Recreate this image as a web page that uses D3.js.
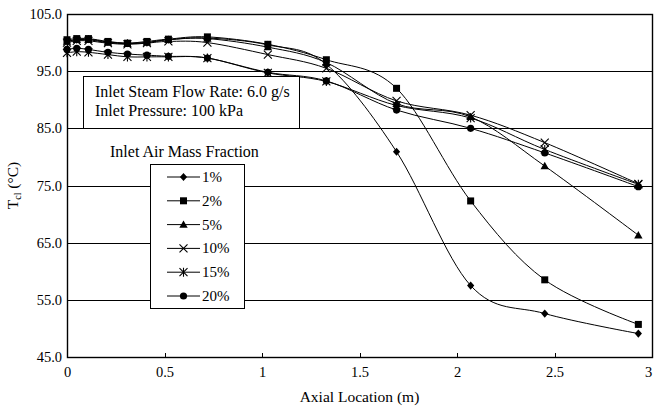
<!DOCTYPE html>
<html>
<head>
<meta charset="utf-8">
<script src="https://cdn.jsdelivr.net/npm/d3@7"></script>
<style>
body { margin: 0; background: #fff; overflow: hidden; }
text { font-family: "Liberation Serif", "Times New Roman", serif; fill: #000; }
</style>
</head>
<body>
<svg id="chart" width="654" height="406"></svg>
<script>
// axial positions (m)
var xs = [0, 0.05, 0.11, 0.21, 0.31, 0.41, 0.52, 0.72, 1.03, 1.33, 1.69, 2.07, 2.45, 2.93];

// centre-line temperature (C) per inlet air mass fraction
var t1  = [100.3, 100.5, 100.6, 100.1, 99.9, 100.0, 100.5, 100.8, 99.6, 96.2, 80.9, 57.5, 52.6, 49.1];
var t2  = [100.5, 100.7, 100.7, 100.2, 99.9, 100.2, 100.6, 101.0, 99.7, 97.0, 92.0, 72.3, 58.5, 50.7];
var t5  = [100.2, 100.5, 100.5, 100.0, 99.8, 100.0, 100.5, 100.7, 99.2, 96.5, 89.3, 87.0, 78.4, 66.3];
var t10 = [100.0, 100.3, 100.3, 99.9, 99.7, 99.9, 100.2, 100.0, 97.9, 95.5, 89.8, 87.3, 82.5, 75.3];
var t15 = [98.2, 98.4, 98.3, 97.9, 97.5, 97.5, 97.5, 97.3, 94.7, 93.2, 89.0, 86.8, 81.3, 75.2];
var t20 = [98.8, 99.0, 98.8, 98.3, 98.0, 97.8, 97.6, 97.3, 94.8, 93.3, 88.2, 85.0, 80.7, 74.8];

var seriesNames = ["1%", "2%", "5%", "10%", "15%", "20%"];
var seriesVals = [t1, t2, t5, t10, t15, t20];
var markerTypes = ["diamond", "square", "triangle", "x", "asterisk", "circle"];

var yTicks = [45, 55, 65, 75, 85, 95, 105];
var xTicks = [0, 0.5, 1, 1.5, 2, 2.5, 3];

var svg = d3.select("#chart");
var pLeft = 67, pRight = 652, pTop = 14, pBottom = 357;

var x = d3.scaleLinear().domain([0, 3]).range([pLeft, pRight]);
var y = d3.scaleLinear().domain([45, 105]).range([pBottom, pTop]);

// grid lines
svg.append("g").selectAll("line")
	.data(yTicks)
	.enter().append("line")
	.attr("x1", pLeft).attr("x2", pRight)
	.attr("y1", function(d) { return Math.round(y(d)) + 0.5; })
	.attr("y2", function(d) { return Math.round(y(d)) + 0.5; })
	.attr("stroke", "#000").attr("stroke-width", 1);

// frame
svg.append("rect")
	.attr("x", pLeft + 0.5).attr("y", pTop + 0.5)
	.attr("width", pRight - pLeft).attr("height", pBottom - pTop)
	.attr("fill", "none").attr("stroke", "#000").attr("stroke-width", 1.4);

// x axis
var xAxis = d3.axisBottom(x).tickValues(xTicks).tickSize(0).tickPadding(10)
	.tickFormat(function(d) { return d; });
var gx = svg.append("g").attr("transform", "translate(0," + pBottom + ")").call(xAxis);
gx.select(".domain").remove();
gx.selectAll("text").style("font-size", "14.5px").style("font-family", "Liberation Serif")
	.attr("dx", function(d) { return d == 3 ? -4 : 0; });
svg.append("g").selectAll("line")
	.data(xTicks.slice(1, -1))
	.enter().append("line")
	.attr("x1", function(d) { return Math.round(x(d)) + 0.5; })
	.attr("x2", function(d) { return Math.round(x(d)) + 0.5; })
	.attr("y1", pBottom).attr("y2", pBottom - 4)
	.attr("stroke", "#000");

// y axis
var yAxis = d3.axisLeft(y).tickValues(yTicks).tickSize(0).tickPadding(5)
	.tickFormat(d3.format(".1f"));
var gy = svg.append("g").attr("transform", "translate(" + pLeft + ",0)").call(yAxis);
gy.select(".domain").remove();
gy.selectAll("text").style("font-size", "14.5px").style("font-family", "Liberation Serif");

// axis titles
svg.append("text")
	.attr("x", (pLeft + pRight) / 2).attr("y", 402)
	.attr("text-anchor", "middle").style("font-size", "15.5px")
	.text("Axial Location (m)");

var ytitle = svg.append("text")
	.attr("transform", "translate(18," + ((pTop + pBottom) / 2) + ") rotate(-90)")
	.attr("text-anchor", "middle").style("font-size", "15.5px");
ytitle.append("tspan").text("T");
ytitle.append("tspan").attr("dy", 3).style("font-size", "10px").text("cl");
ytitle.append("tspan").attr("dy", -3).text(" (°C)");

// marker drawing
function drawMarker(g, type, cx, cy) {
	var s = 3.6;
	if (type == "diamond") {
		g.append("path").attr("d", "M" + cx + "," + (cy - s - 0.5) + "L" + (cx + s) + "," + cy + "L" + cx + "," + (cy + s + 0.5) + "L" + (cx - s) + "," + cy + "Z")
			.attr("fill", "#000");
	} else if (type == "square") {
		g.append("rect").attr("x", cx - 3.5).attr("y", cy - 3.5).attr("width", 7).attr("height", 7).attr("fill", "#000");
	} else if (type == "triangle") {
		g.append("path").attr("d", "M" + cx + "," + (cy - 4.2) + "L" + (cx + 4.2) + "," + (cy + 3.2) + "L" + (cx - 4.2) + "," + (cy + 3.2) + "Z")
			.attr("fill", "#000");
	} else if (type == "x") {
		g.append("path").attr("d", "M" + (cx - 4) + "," + (cy - 4) + "L" + (cx + 4) + "," + (cy + 4) + "M" + (cx + 4) + "," + (cy - 4) + "L" + (cx - 4) + "," + (cy + 4))
			.attr("stroke", "#000").attr("stroke-width", 1.1).attr("fill", "none");
	} else if (type == "asterisk") {
		g.append("path").attr("d", "M" + (cx - 4) + "," + (cy - 4) + "L" + (cx + 4) + "," + (cy + 4) + "M" + (cx + 4) + "," + (cy - 4) + "L" + (cx - 4) + "," + (cy + 4) + "M" + cx + "," + (cy - 4.5) + "L" + cx + "," + (cy + 4.5))
			.attr("stroke", "#000").attr("stroke-width", 1.1).attr("fill", "none");
	} else if (type == "circle") {
		g.append("circle").attr("cx", cx).attr("cy", cy).attr("r", 3.6).attr("fill", "#000");
	}
}

var line = d3.line()
	.x(function(d) { return x(d[0]); })
	.y(function(d) { return y(d[1]); })
	.curve(d3.curveCardinal.tension(0));

var plot = svg.append("g");
for (var i = 0; i < seriesVals.length; i++) {
	var pts = xs.map(function(xv, j) { return [xv, seriesVals[i][j]]; });
	plot.append("path").datum(pts)
		.attr("d", line)
		.attr("fill", "none").attr("stroke", "#000").attr("stroke-width", 1);
	var mg = plot.append("g");
	for (var j = 0; j < pts.length; j++) {
		drawMarker(mg, markerTypes[i], x(pts[j][0]), y(pts[j][1]));
	}
}

// info box
var info = svg.append("g");
info.append("rect").attr("x", 83.5).attr("y", 76.5).attr("width", 216).attr("height", 52)
	.attr("fill", "#fff").attr("stroke", "#000").attr("stroke-width", 1);
info.append("text").attr("x", 95).attr("y", 97).style("font-size", "16px").text("Inlet Steam Flow Rate: 6.0 g/s");
info.append("text").attr("x", 95).attr("y", 116).style("font-size", "16px").text("Inlet Pressure: 100 kPa");

// legend
svg.append("text").attr("x", 110).attr("y", 157).style("font-size", "16px").text("Inlet Air Mass Fraction");
var leg = svg.append("g");
leg.append("rect").attr("x", 150.5).attr("y", 164.5).attr("width", 94).attr("height", 144)
	.attr("fill", "#fff").attr("stroke", "#000").attr("stroke-width", 1);
for (var k = 0; k < seriesNames.length; k++) {
	var ly = 177 + k * 23.8;
	leg.append("line").attr("x1", 167).attr("x2", 200).attr("y1", ly).attr("y2", ly)
		.attr("stroke", "#000").attr("stroke-width", 1);
	drawMarker(leg, markerTypes[k], 183.5, ly);
	leg.append("text").attr("x", 202).attr("y", ly + 5).style("font-size", "15px").text(seriesNames[k]);
}
</script>
</body>
</html>
